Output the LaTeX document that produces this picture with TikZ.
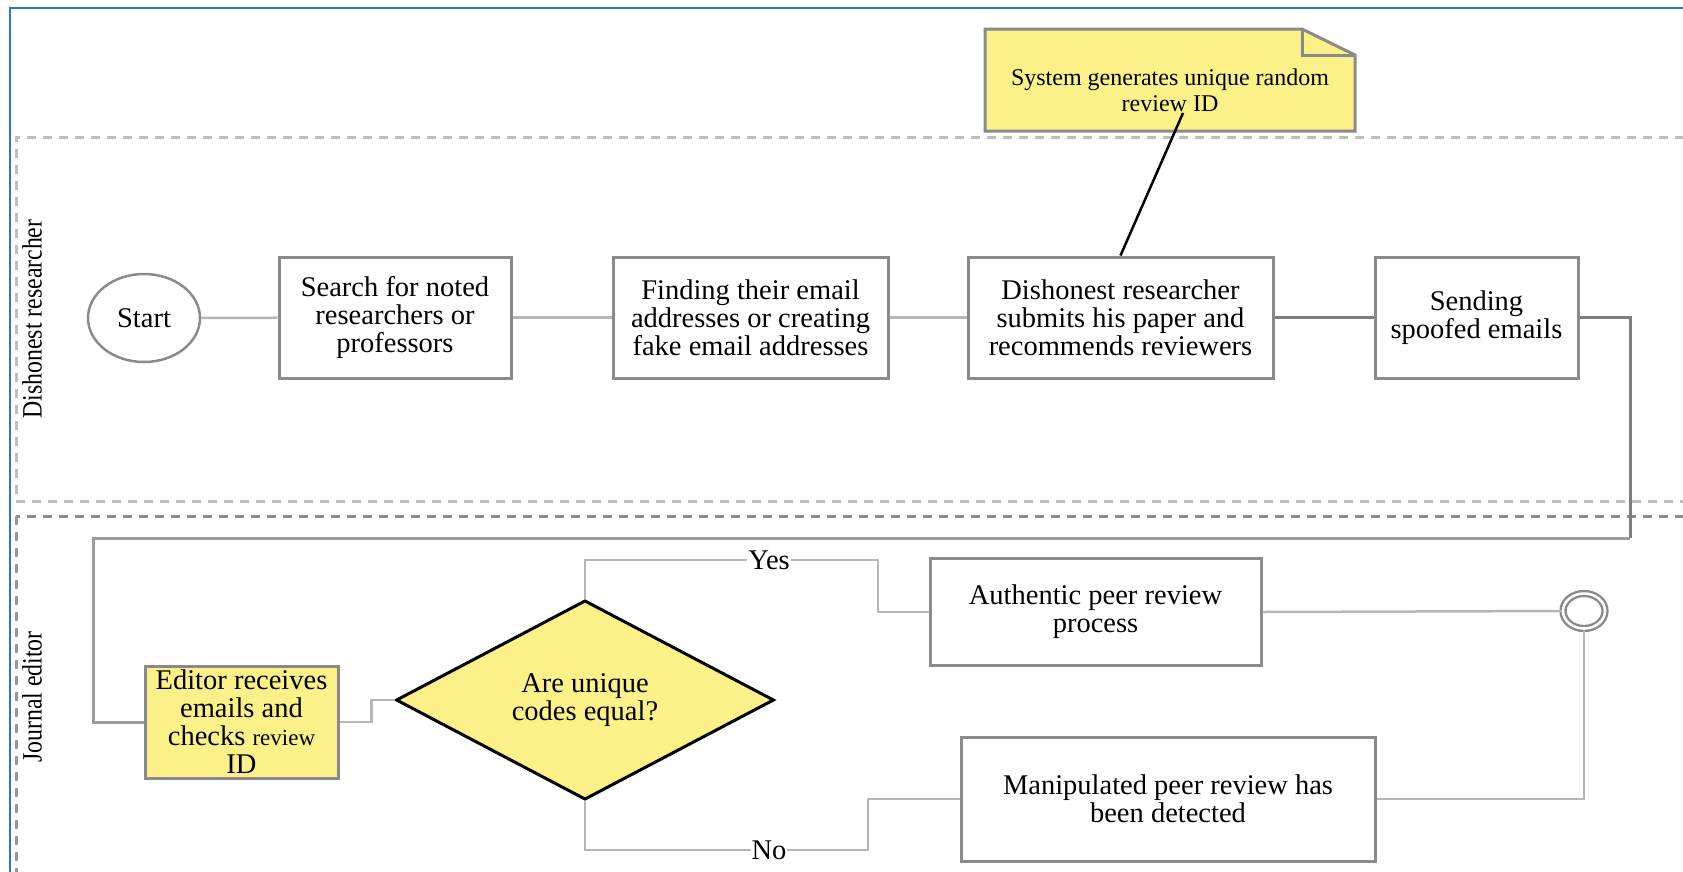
\documentclass[tikz,border=0pt]{standalone}
\usepackage{fontspec}
\usepackage{graphicx}
\setmainfont{Liberation Serif}
\usetikzlibrary{shapes.geometric,calc}
\definecolor{yfill}{RGB}{252,240,136}
\definecolor{bordergray}{RGB}{138,138,138}
\definecolor{conngray}{RGB}{182,182,182}
\definecolor{darkconn}{RGB}{125,125,125}
\definecolor{frameblue}{RGB}{46,117,198}
\definecolor{lanelight}{RGB}{190,190,190}
\definecolor{lanedark}{RGB}{140,140,140}
\begin{document}
\begin{tikzpicture}[x=1pt,y=-1pt,
  txt/.style={font=\fontsize{28.5}{28}\selectfont, align=center},
  taskbox/.style={txt, draw=bordergray, line width=3pt, fill=white, inner sep=0pt, rectangle},
  yellowbox/.style={taskbox, fill=yfill},
  conn/.style={draw=conngray, line width=2.5pt},
  darkline/.style={draw=darkconn, line width=3pt},
  lanestyle/.style={line width=3pt, dash pattern=on 9pt off 7pt},
  lbl/.style={txt, fill=white, inner sep=1pt},
  lanelabel/.style={font=\fontsize{28}{28}\selectfont, rotate=90, inner sep=0pt}
]
\useasboundingbox (0,0) rectangle (1683,871);
\fill[white] (0,0) rectangle (1683,871);

% outer frame
\draw[frameblue, line width=2pt] (10,900) -- (10,8) -- (1700,8);

% lanes
\draw[lanestyle, draw=lanelight] (1700,137) -- (16,137) -- (16,501) -- (1700,501);
\draw[lanestyle, draw=lanedark] (1700,516) -- (16,516);
\draw[lanestyle, draw=lanelight!80!black] (16,516) -- (16,900);

\node[lanelabel] (lane1) at (32,319) {\scalebox{0.85}[1]{Dishonest researcher}};
\node[lanelabel] (lane2) at (32,697) {\scalebox{0.85}[1]{Journal editor}};

% note
\fill[yfill] (985,29) -- (1302,29) -- (1355,55) -- (1355,131) -- (985,131) -- cycle;
\draw[bordergray, line width=3pt, line join=miter] (985,29) -- (1302,29) -- (1355,55) -- (1355,131) -- (985,131) -- cycle;
\draw[bordergray, line width=3pt] (1302,29) -- (1302,55) -- (1355,55);
\node[font=\fontsize{24}{26}\selectfont, align=center, inner sep=0pt] (note) at (1170,90) {System generates unique random\\review ID};

% top lane nodes
\node[ellipse, draw=bordergray, line width=2.5pt, minimum width=112pt, minimum height=88pt, inner sep=0pt, txt] (start) at (144,318) {Start};
\node[taskbox, minimum width=232pt, minimum height=121pt] (search) at (395,317.5) {Search for noted\\researchers or\\professors};
\node[taskbox, minimum width=275pt, minimum height=121pt] (finding) at (750.5,317.5) {Finding their email\\addresses or creating\\fake email addresses};
\node[taskbox, minimum width=305pt, minimum height=121pt] (dishonest) at (1120.5,317.5) {Dishonest researcher\\submits his paper and\\recommends reviewers};
\node[taskbox, minimum width=203pt, minimum height=121pt] (sending) at (1476.5,317.5) {Sending\\spoofed emails};

\coordinate (notetail) at (1183,113);
\draw[black, line width=2.5pt] (notetail) -- (dishonest.north);

\draw[conn] (start) -- (search);
\draw[conn] (search) -- (finding);
\draw[conn] (finding) -- (dishonest);
\draw[darkline] (dishonest) -- (sending);

% bottom lane nodes
\node[yellowbox, minimum width=193pt, minimum height=112pt] (editor) at (241.5,722) {Editor receives\\emails and\\checks {\fontsize{23}{28}\selectfont review}\\ID};
\node[diamond, draw=black, line width=3pt, fill=yfill, minimum width=378pt, minimum height=197pt, inner sep=0pt, txt] (decide) at (585,700) {Are unique\\codes equal?};
\node[taskbox, minimum width=331pt, minimum height=107pt] (authentic) at (1095.5,612) {Authentic peer review\\process};
\node[taskbox, minimum width=414pt, minimum height=124pt] (manip) at (1168,799) {Manipulated peer review has\\been detected};
\node[ellipse, draw=bordergray, line width=2.4pt, double=white, double distance=2.5pt, minimum width=42pt, minimum height=35pt, inner sep=0pt] (endev) at (1584,611) {};

% connectors
\coordinate (c1) at (1630,538);
\coordinate (c2) at (93,538);
\draw[draw=darkconn, line width=3pt] (sending.east) -| (c1);
\draw[draw=conngray!85!black, line width=3pt] (c1) -- (c2) |- (editor.west);

\draw[conn] (editor.east) -- ++(32,0) |- (decide.west);

\coordinate (yc) at (878,560);
\draw[conn] (decide.north) |- (yc) |- (authentic.west);
\node[lbl] (yes) at (769,560) {Yes};

\coordinate (nc) at (868,850);
\draw[conn] (decide.south) |- (nc) |- (manip.west);
\node[lbl] (no) at (769,850) {No};

\draw[conn] (authentic.east) -- (endev.west);
\draw[conn] (manip.east) -| (endev.south);
\end{tikzpicture}
\end{document}
